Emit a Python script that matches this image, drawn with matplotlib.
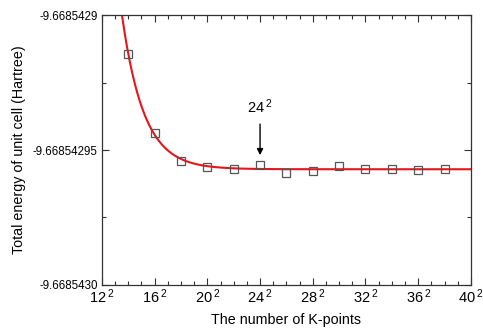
"""Convergence of total energy vs. K-point mesh, with ExpDec fit."""

import matplotlib

matplotlib.use("Agg")
import matplotlib.pyplot as plt  # noqa: E402
import numpy as np  # noqa: E402
from matplotlib.ticker import MultipleLocator  # noqa: E402

# ---- data ----
k_mesh = [14, 16, 18, 20, 22, 24, 26, 28, 30, 32, 34, 36, 38]
energy = [
    -9.6685429144, -9.6685429438, -9.6685429541, -9.6685429563,
    -9.6685429572, -9.6685429554, -9.6685429586, -9.6685429576,
    -9.6685429560, -9.6685429570, -9.6685429570, -9.6685429573,
    -9.6685429569,
]
y_ticks = [-9.6685430, -9.66854295, -9.6685429]
y_tick_labels = ["-9.6685430", "-9.66854295", "-9.6685429"]
x_ticks = [12, 16, 20, 24, 28, 32, 36, 40]
x_tick_labels = [r"$\mathregular{%d^{\,2}}$" % k for k in x_ticks]
marked_k = 24

plt.rcParams["font.family"] = ["Liberation Sans", "DejaVu Sans"]

# ---- exponential decay fit, done in scaled units for conditioning ----
ref = y_ticks[-1]
n = np.array(k_mesh, dtype=float)
u = (ref - np.array(energy)) * 1e7
best = None
for t in np.linspace(0.3, 6.0, 2000):
    basis = np.column_stack([np.ones_like(n), np.exp(-n / t)])
    coef, *_ = np.linalg.lstsq(basis, u, rcond=None)
    err = np.sum((basis @ coef - u) ** 2)
    if best is None or err < best[0]:
        best = (err, t, coef)
_, t_fit, (y0, amp) = best
n_fine = np.linspace(12, 40, 600)
e_fit = ref - (y0 + amp * np.exp(-n_fine / t_fit)) * 1e-7

fig = plt.figure(figsize=(4.83, 3.29), dpi=100)
ax = fig.add_axes([0.211, 0.134, 0.764, 0.820])

ax.plot(n_fine, e_fit, color="#e8141c", lw=1.5, zorder=2)
ax.plot(k_mesh, energy, ls="none", marker="s", ms=5.5, mfc="none",
        mec="#555555", mew=0.9, zorder=3)

ax.set_xlim(12, 40)
ax.set_ylim(y_ticks[0], y_ticks[-1])
ax.set_xticks(x_ticks, x_tick_labels)
ax.set_yticks(y_ticks, y_tick_labels)
ax.xaxis.set_minor_locator(MultipleLocator(1))
ax.yaxis.set_minor_locator(MultipleLocator(2.5e-8))
ax.tick_params(which="both", direction="in", top=True, right=True,
               color="#333333", width=0.8)
ax.tick_params(which="major", length=5)
ax.tick_params(which="minor", length=3)
ax.tick_params(axis="x", labelsize=10.5, pad=2)
ax.tick_params(axis="y", labelsize=8.3, pad=3)
for s in ax.spines.values():
    s.set_color("#333333")
    s.set_linewidth(0.9)

# arrow marking the chosen mesh
ax.annotate("", xy=(marked_k, ref - 0.519e-7), xytext=(marked_k, ref - 0.404e-7),
            arrowprops=dict(arrowstyle="-|>", color="black", lw=1,
                            mutation_scale=9, shrinkA=0, shrinkB=0))
ax.text(marked_k, ref - 0.34e-7, r"$\mathregular{%d^{\,2}}$" % marked_k,
        ha="center", va="center", fontsize=10.5)

ax.set_xlabel("The number of K-points", fontsize=10.3, labelpad=4.5)
ax.set_ylabel("Total energy of unit cell (Hartree)", fontsize=10.3, labelpad=5)

fig.savefig("out.png", dpi=100)
plt.close(fig)
